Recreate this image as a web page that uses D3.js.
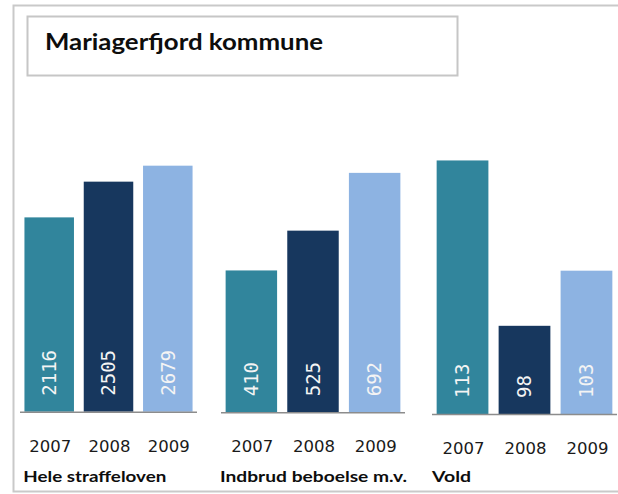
<!DOCTYPE html>
<html>
<head>
<meta charset="utf-8">
<script src="https://cdn.jsdelivr.net/npm/d3@7"></script>
<style>
  html, body { margin: 0; padding: 0; background: #ffffff; }
  svg { display: block; }
</style>
</head>
<body>
<svg id="chart" width="618" height="494"></svg>
<script>
// ---- data ----
const title = "Mariagerfjord kommune";
const years = ["2007", "2008", "2009"];
const categories = ["Hele straffeloven", "Indbrud beboelse m.v.", "Vold"];
const valuesHele = [2116, 2505, 2679];
const valuesIndbrud = [410, 525, 692];
const valuesVold = [113, 98, 103];
const axisMin = [0, 0, 90];
const axisMax = [3000, 800, 115];
const colors = ["#31859C", "#17375E", "#8DB3E2"];

// ---- layout ----
const svg = d3.select("#chart");
const W = 618, H = 494;

// outer frame (open on the right)
svg.append("path")
  .attr("d", `M${W + 5},5.5 H13.5 V491.5 H${W + 5}`)
  .attr("fill", "none")
  .attr("stroke", "#c9c9c9")
  .attr("stroke-width", 2);

// title box
svg.append("rect")
  .attr("x", 27.5).attr("y", 16.5)
  .attr("width", 430).attr("height", 59)
  .attr("fill", "#fff")
  .attr("stroke", "#c6c6c6")
  .attr("stroke-width", 2);

svg.append("text")
  .attr("x", 45).attr("y", 50)
  .attr("font-family", "Lato, 'Open Sans', sans-serif")
  .attr("font-weight", 700)
  .attr("font-size", 23)
  .attr("fill", "#0d0d0d")
  .attr("textLength", 278)
  .attr("lengthAdjust", "spacingAndGlyphs")
  .text(title);

const panels = [
  { name: categories[0], values: valuesHele, x0: 20, x1: 197, base: 411.7, top: 136.2, labelW: 143 },
  { name: categories[1], values: valuesIndbrud, x0: 221, x1: 405, base: 412.3, top: 135.5, labelW: 187 },
  { name: categories[2], values: valuesVold, x0: 432, x1: 617, base: 414, top: 138.4, labelW: 39 }
];

panels.forEach((p, i) => {
  const x = d3.scaleBand().domain(years).range([p.x0, p.x1])
    .paddingInner(0.165).paddingOuter(0.075);
  const y = d3.scaleLinear().domain([axisMin[i], axisMax[i]]).range([p.base, p.top]);
  const g = svg.append("g");
  const data = years.map((yr, j) => ({ yr, v: p.values[j], c: colors[j] }));

  g.selectAll("rect.bar").data(data).join("rect")
    .attr("class", "bar")
    .attr("x", d => x(d.yr))
    .attr("width", x.bandwidth())
    .attr("y", d => y(d.v))
    .attr("height", d => p.base - y(d.v))
    .attr("fill", d => d.c);

  // axis line
  g.append("line")
    .attr("x1", p.x0).attr("x2", p.x1)
    .attr("y1", p.base + 0.5).attr("y2", p.base + 0.5)
    .attr("stroke", "#8c8c8c").attr("stroke-width", 1.6);

  // value labels (rotated)
  g.selectAll("text.val").data(data).join("text")
    .attr("class", "val")
    .attr("transform", d => `translate(${x(d.yr) + x.bandwidth() / 2},${p.base - 16}) rotate(-90)`)
    .attr("dy", "0.36em")
    .attr("text-anchor", "start")
    .attr("font-family", "'DejaVu Sans Mono', monospace")
    .attr("font-size", 19)
    .attr("fill", "#f4f4f4")
    .text(d => d.v);

  // year labels
  g.selectAll("text.yr").data(data).join("text")
    .attr("class", "yr")
    .attr("x", d => x(d.yr) + x.bandwidth() / 2 + 1)
    .attr("y", p.base + 40)
    .attr("text-anchor", "middle")
    .attr("font-family", "'DejaVu Sans', Verdana, sans-serif")
    .attr("font-size", 16.5)
    .attr("fill", "#1a1a1a")
    .text(d => d.yr);

  // category label
  g.append("text")
    .attr("x", p.x0 + (i === 0 ? 3.3 : -1 + (i === 2 ? 1 : 0)))
    .attr("y", 481.7)
    .attr("font-family", "Lato, 'Open Sans', sans-serif")
    .attr("font-weight", 700)
    .attr("font-size", 16)
    .attr("fill", "#0d0d0d")
    .attr("textLength", p.labelW)
    .attr("lengthAdjust", "spacingAndGlyphs")
    .text(p.name);
});
</script>
</body>
</html>
